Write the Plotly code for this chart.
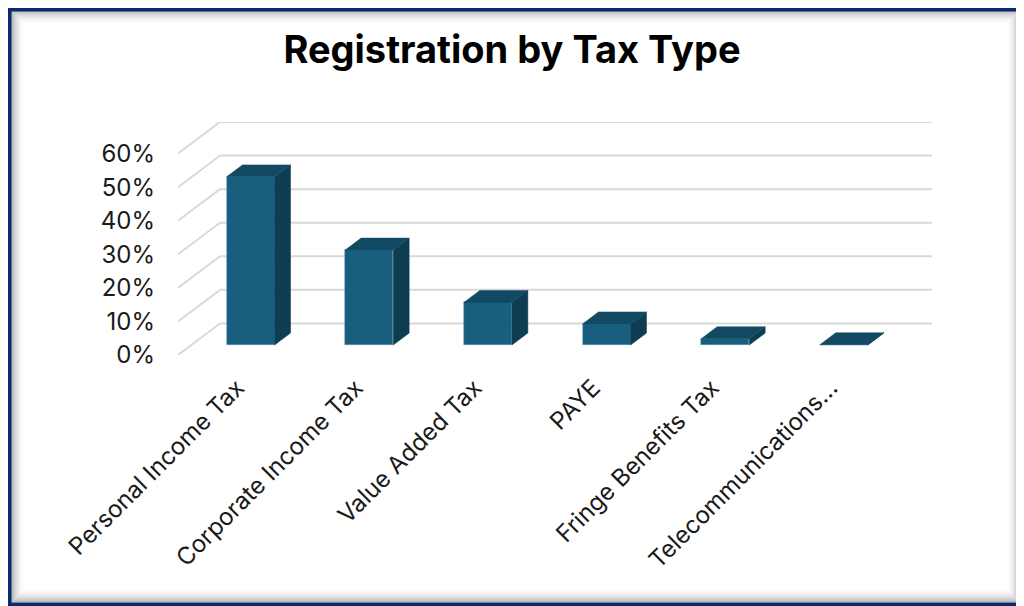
import plotly.graph_objects as go

# data
categories = ["Personal Income Tax", "Corporate Income Tax", "Value Added Tax",
              "PAYE", "Fringe Benefits Tax", "Telecommunications..."]
shares = [50.1, 28.3, 12.7, 6.3, 1.9, 0.1]   # percent of registrations
y_ticks = [0, 10, 20, 30, 40, 50, 60]

# the page puts the figure 8px in from the top-left corner
OFF = 8
W, H = 1024 - OFF, 606 - OFF
ML, MR, MT, MB = 178 - OFF, 92, 122 - OFF, 251

# fake 3d: depth of the floor expressed in axis units
DX = 0.354   # category units
DY = 9.4     # percent units
d0, d1 = 0.315, 0.694   # front/back of the columns within the floor depth
bw = 0.405

front = "#185f7f"
top = "#134a63"
side = "#0e3d52"
edge = "rgba(90,150,180,0.6)"

fig = go.Figure()

# front faces
fig.add_trace(go.Bar(
    x=[i + d0 * DX for i in range(len(categories))],
    y=shares,
    base=d0 * DY,
    width=bw,
    marker=dict(color=front, line=dict(color=edge, width=0.6)),
    hovertext=categories,
    showlegend=False,
))

# top and side faces
dd = d1 - d0
tx, ty, sx, sy = [], [], [], []
for i, v in enumerate(shares):
    xl = i + d0 * DX - bw / 2
    xr = xl + bw
    b = d0 * DY
    tx += [xl, xr, xr + dd * DX, xl + dd * DX, xl, None]
    ty += [b + v, b + v, b + v + dd * DY, b + v + dd * DY, b + v, None]
    sx += [xr, xr, xr + dd * DX, xr + dd * DX, xr, None]
    sy += [b, b + v, b + v + dd * DY, b + dd * DY, b, None]

fig.add_trace(go.Scatter(x=sx, y=sy, fill="toself", fillcolor=side, mode="lines",
                         line=dict(color=side, width=0.5), hoverinfo="skip", showlegend=False))
fig.add_trace(go.Scatter(x=tx, y=ty, fill="toself", fillcolor=top, mode="lines",
                         line=dict(color=top, width=0.5), hoverinfo="skip", showlegend=False))

# gridlines: diagonal on the side wall, horizontal on the back wall
x0 = -0.5
x1 = len(categories) - 0.5 + DX
shapes = []
for g in y_ticks:
    shapes.append(dict(type="line", xref="x", yref="y", layer="below",
                       x0=x0, y0=g, x1=x0 + DX, y1=g + DY,
                       line=dict(color="#d9d9d9", width=2)))
    shapes.append(dict(type="line", xref="x", yref="y", layer="below",
                       x0=x0 + DX, y0=g + DY, x1=x1, y1=g + DY,
                       line=dict(color="#d9d9d9", width=2)))

# frame with inner shadow (in figure pixels)
pw, ph = W - ML - MR, H - MT - MB


def px(x):
    return (x - ML) / pw


def py(y):
    return 1 - (y - MT) / ph


for k in range(14):
    a = 0.30 * (1 - k / 14) ** 2
    shapes.append(dict(type="rect", xref="paper", yref="paper", layer="above",
                       x0=px(3 + k), x1=px(W - 4 - k), y0=py(H - 4 - k), y1=py(3 + k),
                       line=dict(color=f"rgba(0,0,0,{a:.3f})", width=1.2)))
shapes.append(dict(type="rect", xref="paper", yref="paper", layer="above",
                   x0=px(1.5), x1=px(W - 1.5), y0=py(H - 1.5), y1=py(1.5),
                   line=dict(color="#0b2a6b", width=4)))

fig.update_layout(
    width=W, height=H,
    margin=dict(l=ML, r=MR, t=MT, b=MB),
    paper_bgcolor="white", plot_bgcolor="white",
    font=dict(family="Inter, Liberation Sans, sans-serif", size=24, color="#1a1a1a"),
    title=dict(text="<b>Registration by Tax Type</b>", x=(512 - OFF) / W, xanchor="center",
               y=1 - (50 - OFF) / H, yanchor="middle", yref="container",
               font=dict(family="Inter, Liberation Sans, sans-serif", size=38, color="black")),
    shapes=shapes,
    bargap=0,
    xaxis=dict(range=[x0, x1], tickvals=list(range(len(categories))), ticktext=categories,
               tickangle=-45, showgrid=False, zeroline=False, showline=False, ticks="",
               ticklabelstandoff=13, fixedrange=True),
    yaxis=dict(range=[0, 60 + DY], tickvals=y_ticks, ticktext=[f"{g}%" for g in y_ticks],
               showgrid=False, zeroline=False, showline=False, ticks="",
               ticklabelstandoff=22, fixedrange=True),
)

fig.write_html("out.html")
